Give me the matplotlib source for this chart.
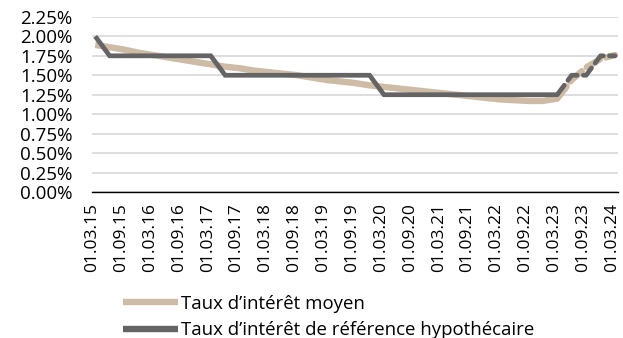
import matplotlib.pyplot as plt
import matplotlib.transforms as mtransforms

plt.rcParams['font.family'] = ['Open Sans', 'DejaVu Sans']

# quarterly dates 01.03.15 .. 01.03.24
dates = ['01.03.15', '01.06.15', '01.09.15', '01.12.15',
         '01.03.16', '01.06.16', '01.09.16', '01.12.16',
         '01.03.17', '01.06.17', '01.09.17', '01.12.17',
         '01.03.18', '01.06.18', '01.09.18', '01.12.18',
         '01.03.19', '01.06.19', '01.09.19', '01.12.19',
         '01.03.20', '01.06.20', '01.09.20', '01.12.20',
         '01.03.21', '01.06.21', '01.09.21', '01.12.21',
         '01.03.22', '01.06.22', '01.09.22', '01.12.22',
         '01.03.23', '01.06.23', '01.09.23', '01.12.23',
         '01.03.24']

taux_moyen = [1.89, 1.86, 1.83, 1.79, 1.76, 1.73, 1.70, 1.67,
              1.64, 1.61, 1.59, 1.56, 1.54, 1.52, 1.50, 1.47,
              1.44, 1.42, 1.40, 1.37, 1.35, 1.33, 1.31, 1.29,
              1.27, 1.25, 1.23, 1.21, 1.19, 1.18, 1.17, 1.17,
              1.20, 1.44, 1.60, 1.71, 1.76]

taux_reference = [2.00, 1.75, 1.75, 1.75, 1.75, 1.75, 1.75, 1.75,
                  1.75, 1.50, 1.50, 1.50, 1.50, 1.50, 1.50, 1.50,
                  1.50, 1.50, 1.50, 1.50, 1.25, 1.25, 1.25, 1.25,
                  1.25, 1.25, 1.25, 1.25, 1.25, 1.25, 1.25, 1.25,
                  1.25, 1.50, 1.50, 1.75, 1.75]

# from this index on the values are forecasts (dashed)
prevision = 32

yticks = [0, 0.25, 0.5, 0.75, 1.0, 1.25, 1.5, 1.75, 2.0, 2.25]

beige = '#CDBBA5'
gris = '#646464'

fig = plt.figure(figsize=(6.23, 3.38), dpi=100)
ax = fig.add_axes([0.148, 0.432, 0.844, 0.518])

x = list(range(len(dates)))

l1, = ax.plot(x[:prevision + 1], taux_moyen[:prevision + 1], color=beige,
              lw=4.6, solid_capstyle='butt', solid_joinstyle='round')
ax.plot(x[prevision:], taux_moyen[prevision:], color=beige, lw=4.6,
        dashes=(2.4, 1.0), dash_capstyle='round')
l2, = ax.plot(x[:prevision + 1], taux_reference[:prevision + 1], color=gris,
              lw=3.4, solid_capstyle='butt', solid_joinstyle='miter')
ax.plot(x[prevision:], taux_reference[prevision:], color=gris, lw=3.4,
        dashes=(2.5, 1.3), dash_capstyle='round')

ax.set_xlim(-0.21, 36.21)
ax.set_ylim(0, 2.25)
ax.set_yticks(yticks)
ax.set_yticklabels(['%.2f%%' % v for v in yticks], fontsize=13.5)
ax.set_xticks(x[::2])
ax.set_xticklabels(dates[::2], rotation=90, fontsize=12.5)
ax.tick_params(axis='y', length=0, pad=14)
ax.tick_params(axis='x', length=0, pad=8)

# nudge the rotated date labels slightly to the left
shift = mtransforms.ScaledTranslation(-3 / 100, 0, fig.dpi_scale_trans)
for lab in ax.get_xticklabels():
    lab.set_transform(lab.get_transform() + shift)

ax.grid(axis='y', color='#D4D4D4', lw=1.1)
ax.set_axisbelow(True)
for side in ['top', 'right', 'left']:
    ax.spines[side].set_visible(False)
ax.spines['bottom'].set_color('black')
ax.spines['bottom'].set_linewidth(1.0)
ax.spines['bottom'].set_zorder(1)

leg = fig.legend([l1, l2],
                 ['Taux d’intérêt moyen', 'Taux d’intérêt de référence hypothécaire'],
                 loc='upper left', bbox_to_anchor=(0.197, 0.128), frameon=False,
                 fontsize=13.4, handlelength=2.95, handletextpad=0.2,
                 labelspacing=0.45, borderpad=0, borderaxespad=0)
for h in leg.get_lines():
    h.set_linewidth(4.6)

fig.savefig('out.png', dpi=100)
